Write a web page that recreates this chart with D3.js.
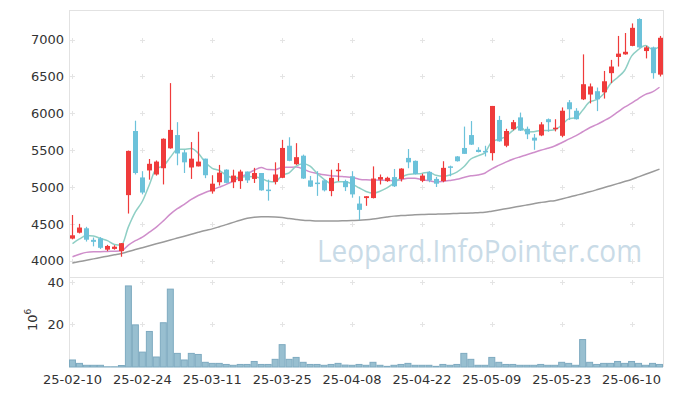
<!DOCTYPE html>
<html>
<head>
<meta charset="utf-8">
<script src="https://cdn.jsdelivr.net/npm/d3@7"></script>
<style>
  body { margin: 0; background: #fff; }
  svg { display: block; }
</style>
</head>
<body>
<svg id="chart" width="673" height="396"></svg>
<script>
// trading days shown (KRX calendar)
const dates = [
  '2025-02-10','2025-02-11','2025-02-12','2025-02-13','2025-02-14',
  '2025-02-17','2025-02-18','2025-02-19','2025-02-20','2025-02-21',
  '2025-02-24','2025-02-25','2025-02-26','2025-02-27','2025-02-28',
  '2025-03-04','2025-03-05','2025-03-06','2025-03-07','2025-03-10',
  '2025-03-11','2025-03-12','2025-03-13','2025-03-14','2025-03-17',
  '2025-03-18','2025-03-19','2025-03-20','2025-03-21','2025-03-24',
  '2025-03-25','2025-03-26','2025-03-27','2025-03-28','2025-03-31',
  '2025-04-01','2025-04-02','2025-04-03','2025-04-04','2025-04-07',
  '2025-04-08','2025-04-09','2025-04-10','2025-04-11','2025-04-14',
  '2025-04-15','2025-04-16','2025-04-17','2025-04-18','2025-04-21',
  '2025-04-22','2025-04-23','2025-04-24','2025-04-25','2025-04-28',
  '2025-04-29','2025-04-30','2025-05-02','2025-05-07','2025-05-08',
  '2025-05-09','2025-05-12','2025-05-13','2025-05-14','2025-05-15',
  '2025-05-16','2025-05-19','2025-05-20','2025-05-21','2025-05-22',
  '2025-05-23','2025-05-26','2025-05-27','2025-05-28','2025-05-29',
  '2025-05-30','2025-06-02','2025-06-04','2025-06-05','2025-06-09',
  '2025-06-10','2025-06-11','2025-06-12','2025-06-13','2025-06-16'
];

const opens = [
  4300,4380,4440,4283,4303,4150,4160,4130,4890,5760,
  5130,5225,5170,5255,5525,5705,5470,5265,5280,5385,
  4940,5065,5236,5065,5080,5210,5110,5190,4965,5070,
  5125,5560,5310,5425,5090,5060,5090,4945,5215,5080,
  5145,4775,4850,4850,5100,5080,5135,5110,5395,5355,
  5085,5205,5110,5080,5280,5415,5530,5705,5505,5490,
  5460,5910,5560,5785,5945,5790,5670,5700,5920,5785,
  5695,6150,6035,6190,6255,6300,6285,6545,6765,6800,
  6915,7280,6845,6895,6525
];
const highs = [
  4620,4500,4460,4315,4320,4215,4210,4240,5495,5900,
  5215,5380,5360,5660,6410,5880,5505,5610,5750,5385,
  5160,5300,5240,5235,5235,5210,5260,5190,5100,5335,
  5640,5675,5595,5440,5150,5215,5100,5235,5325,5100,
  5215,4875,4876,5280,5170,5140,5245,5255,5515,5360,
  5180,5215,5137,5350,5290,5420,5820,5895,5540,5560,
  6100,5965,5790,5910,6010,5820,5720,5880,5930,5920,
  6080,6180,6070,6800,6405,6350,6575,6725,7050,7090,
  7220,7290,6915,6905,7050
];
const lows = [
  4290,4370,4260,4195,4160,4130,4150,4054,4640,5170,
  4900,5100,5155,5035,5520,5295,5190,5110,5280,5120,
  4910,5020,5050,4985,4975,5055,5055,4950,4815,5035,
  5120,5350,5300,5110,5000,4880,4940,4875,5080,4945,
  4855,4550,4745,4845,5035,5070,5000,5075,5255,5170,
  5065,5065,5000,5065,5146,5345,5450,5570,5470,5415,
  5360,5615,5540,5770,5760,5650,5505,5690,5750,5755,
  5675,5910,5915,6180,6135,6030,6200,6410,6635,6795,
  6910,6890,6745,6470,6500
];
const closes = [
  4345,4450,4285,4256,4175,4200,4190,4238,5490,5190,
  4925,5315,5345,5655,5775,5455,5335,5385,5345,5160,
  5045,5195,5056,5155,5210,5090,5190,4955,4950,5170,
  5530,5355,5405,5115,5005,5045,4955,5125,5235,4998,
  4900,4690,4875,5115,5135,5125,5010,5250,5335,5175,
  5155,5090,5045,5260,5265,5350,5450,5575,5475,5470,
  6100,5620,5760,5880,5765,5715,5630,5850,5880,5805,
  6035,6055,5920,6395,6365,6190,6435,6635,6810,6835,
  7160,6895,6895,6545,7025
];
// closes before 25-02-10 (estimated from the MA lines), oldest first
const priorCloses = [
  3780,3775,4100,4150,4120,4140,4130,3950,3980,3940,
  3970,3990,3960,3955,3976,4140,4055,4286,4339
];
// 60-day average
const ma60 = [
  3969,3988,4006,4025,4043,4062,4080,4099,4125,4151,
  4177,4203,4229,4255,4281,4307,4333,4359,4385,4410,
  4432,4460,4490,4520,4550,4575,4590,4595,4595,4592,
  4585,4572,4560,4550,4545,4540,4538,4538,4540,4542,
  4545,4548,4555,4565,4578,4592,4605,4612,4618,4622,
  4626,4630,4632,4635,4638,4641,4644,4647,4652,4657,
  4672,4688,4705,4722,4739,4756,4773,4790,4805,4815,
  4838,4862,4886,4910,4935,4962,4990,5018,5046,5074,
  5103,5138,5173,5208,5243
];
// volume, millions of shares
const volumes = [
  3.3,1.7,0.8,0.8,0.8,0.1,0.1,0.7,38.1,19.8,
  7.0,16.7,4.7,20.8,36.6,6.4,3.3,6.4,5.9,2.2,
  1.7,1.7,1.2,0.8,1.2,1.2,2.6,1.2,1.2,3.6,
  10.5,3.6,4.5,2.2,1.2,1.2,0.8,1.2,1.7,0.9,
  0.8,1.2,0.8,2.2,0.8,0.3,0.8,1.2,1.7,0.8,
  0.8,0.8,0.3,1.2,0.8,1.2,6.4,3.6,0.8,0.8,
  4.5,2.2,1.2,1.2,0.8,0.8,0.8,1.2,0.8,0.8,
  2.2,1.7,0.8,12.9,2.2,1.2,1.7,1.7,2.6,1.7,
  2.6,1.7,0.8,1.7,1.2
];

const priceTicks = [4000, 4500, 5000, 5500, 6000, 6500, 7000];
const volumeTicks = [20, 40];
const xTickIdx = [0, 10, 20, 30, 40, 50, 60, 70, 80];

// moving average over closes, using earlier closes for the warm-up
function movingAvg(n) {
  const all = priorCloses.concat(closes);
  const off = priorCloses.length;
  return closes.map((c, i) => d3.mean(all.slice(off + i - n + 1, off + i + 1)));
}
const ma5 = movingAvg(5);
const ma20 = movingAvg(20);

const data = dates.map((d, i) => ({
  i, date: d, open: opens[i], high: highs[i], low: lows[i], close: closes[i],
  vol: volumes[i], ma5: ma5[i], ma20: ma20[i], ma60: ma60[i]
}));

const left = 69, right = 663;
const priceTop = 10, priceBottom = 277;
const volTop = 277, volBottom = 367;

const svg = d3.select('#chart');
const font = 'DejaVu Sans, sans-serif';

const x = d3.scaleBand()
  .domain(data.map(d => d.i))
  .range([left, right])
  .padding(0);
const xc = i => x(i) + x.bandwidth() / 2;

const y = d3.scaleLinear().domain([3779, 7402]).range([priceBottom, priceTop]);
const yv = d3.scaleLinear().domain([0, 42.3]).range([volBottom, volTop]);

// frame
const frame = svg.append('g').attr('stroke', '#e2e2e2').attr('fill', 'none');
frame.append('line').attr('x1', left).attr('x2', right).attr('y1', priceTop + 0.5).attr('y2', priceTop + 0.5);
frame.append('line').attr('x1', left).attr('x2', right).attr('y1', priceBottom + 0.5).attr('y2', priceBottom + 0.5);
frame.append('line').attr('x1', right + 0.5).attr('x2', right + 0.5).attr('y1', priceTop).attr('y2', volBottom);
frame.append('line').attr('x1', left + 0.5).attr('x2', left + 0.5).attr('y1', priceTop).attr('y2', volBottom);

// grid crosses
const cross = svg.append('g').attr('stroke', '#e4e4e4').attr('stroke-width', 1);
function addCross(cx, cy) {
  cross.append('line').attr('x1', cx - 2.5).attr('x2', cx + 2.5).attr('y1', cy).attr('y2', cy);
  cross.append('line').attr('x1', cx).attr('x2', cx).attr('y1', cy - 2.5).attr('y2', cy + 2.5);
}
xTickIdx.forEach(i => {
  priceTicks.forEach(v => addCross(Math.round(xc(i)) + 0.5, Math.round(y(v)) + 0.5));
  volumeTicks.forEach(v => addCross(Math.round(xc(i)) + 0.5, Math.round(yv(v)) + 0.5));
});

// watermark
svg.append('text')
  .attr('x', 317)
  .attr('y', 262)
  .attr('font-family', 'Open Sans, sans-serif')
  .attr('font-size', 31)
  .attr('fill', '#c9dbe7')
  .attr('textLength', 325)
  .attr('lengthAdjust', 'spacingAndGlyphs')
  .text('Leopard.InfoPointer.com');

// price axis
const yAxis = d3.axisLeft(y).tickValues(priceTicks).tickFormat(d3.format('d')).tickSize(0).tickPadding(5);
svg.append('g')
  .attr('transform', `translate(${left},0)`)
  .call(yAxis)
  .call(g => g.select('.domain').remove())
  .selectAll('text')
  .attr('font-family', font).attr('font-size', 13).attr('fill', '#333');

// volume axis
const yvAxis = d3.axisLeft(yv).tickValues(volumeTicks).tickSize(0).tickPadding(5);
svg.append('g')
  .attr('transform', `translate(${left},0)`)
  .call(yvAxis)
  .call(g => g.select('.domain').remove())
  .selectAll('text')
  .attr('font-family', font).attr('font-size', 13).attr('fill', '#333');

const vLabel = svg.append('text')
  .attr('transform', 'translate(37,331) rotate(-90)')
  .attr('font-family', font).attr('font-size', 13).attr('fill', '#333');
vLabel.append('tspan').text('10');
vLabel.append('tspan').attr('font-size', 9).attr('dy', -6).text('6');

// date axis
const fmt = d3.timeFormat('%y-%m-%d');
const parse = d3.timeParse('%Y-%m-%d');
const xAxis = d3.axisBottom(x)
  .tickValues(xTickIdx)
  .tickSize(0)
  .tickPadding(8)
  .tickFormat(i => fmt(parse(dates[i])));
svg.append('g')
  .attr('transform', `translate(0,${volBottom})`)
  .call(xAxis)
  .call(g => g.select('.domain').remove())
  .selectAll('text')
  .attr('font-family', font).attr('font-size', 13).attr('fill', '#333');

// volume bars
svg.append('g')
  .selectAll('rect')
  .data(data)
  .join('rect')
  .attr('x', d => x(d.i) + 0.5)
  .attr('y', d => yv(d.vol))
  .attr('width', x.bandwidth() - 1)
  .attr('height', d => volBottom - yv(d.vol))
  .attr('fill', '#98bfd0')
  .attr('stroke', '#7eaac0')
  .attr('stroke-width', 1);

// moving averages
const maLine = key => d3.line()
  .x(d => xc(d.i))
  .y(d => y(d[key]))
  .curve(d3.curveMonotoneX);

[['ma60', '#9a9a9a'], ['ma20', '#cf8ecb'], ['ma5', '#8fcfc5']].forEach(([key, col]) => {
  svg.append('path')
    .datum(data)
    .attr('fill', 'none')
    .attr('stroke', col)
    .attr('stroke-width', 1.5)
    .attr('d', maLine(key));
});

// candles
const upCol = '#ef3b3b', downCol = '#6cc2da';
const candles = svg.append('g')
  .selectAll('g')
  .data(data)
  .join('g');

candles.append('line')
  .attr('x1', d => Math.round(xc(d.i)) + 0.5)
  .attr('x2', d => Math.round(xc(d.i)) + 0.5)
  .attr('y1', d => y(d.high))
  .attr('y2', d => y(d.low))
  .attr('stroke', d => d.close >= d.open ? upCol : downCol)
  .attr('stroke-width', 1.2);

candles.append('rect')
  .attr('x', d => Math.round(xc(d.i)) - 2)
  .attr('y', d => y(Math.max(d.open, d.close)))
  .attr('width', 5)
  .attr('height', d => Math.max(1.5, Math.abs(y(d.open) - y(d.close))))
  .attr('fill', d => d.close >= d.open ? upCol : downCol);
</script>
</body>
</html>
